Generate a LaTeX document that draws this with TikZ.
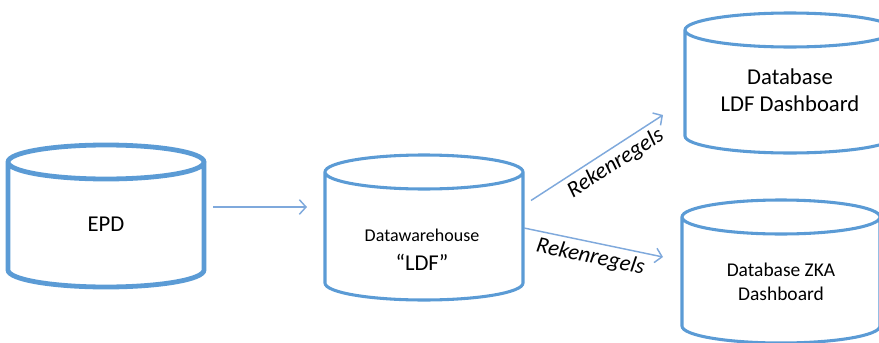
\documentclass[tikz,border=0pt]{standalone}
\usepackage{fontspec}
\setmainfont{Carlito}
\usepackage{tikz}
\usetikzlibrary{arrows.meta,calc}
\definecolor{dbblue}{HTML}{5B9BD5}
\definecolor{linkblue}{HTML}{7FA9DC}
\tikzset{
  db/.style = {rectangle, inner sep=0pt, outer sep=0pt},
  dbline/.style = {draw=dbblue, line width=#1},
  dbtext/.style = {align=center, font=\fontsize{17}{20}\selectfont},
  link/.style = {linkblue, line width=1.1pt, -{Straight Barb[length=5pt,width=11pt]}},
  rulelabel/.style = {text=black, font=\itshape\fontsize{17}{20}\selectfont, sloped}
}

\begin{document}
\begin{tikzpicture} [x=0.75pt, y=-0.75pt]
\useasboundingbox (0,0) rectangle (879,343);
\clip (0,0) rectangle (879,343);
\node[db, minimum width=147pt, minimum height=106.5pt] (epd) at (106,216) {};
\node[db, minimum width=148.5pt, minimum height=108.75pt] (dw) at (424,227.5) {};
\node[db, minimum width=157.5pt, minimum height=105pt] (ldfdb) at (790,83) {};
\node[db, minimum width=148.5pt, minimum height=107.25pt] (zkadb) at (781,271.5) {};
\foreach \db/\lw in {epd/3.6pt, dw/2.3pt, ldfdb/2.3pt, zkadb/2.3pt}
  \draw[dbline=\lw] let \p1 = (\db.north west), \p2 = (\db.south east),
      \n1 = {(\x2-\x1)/2}, \n2 = {12.75pt} in
    (\x1+\n1, \y1-\n2) ellipse [x radius=\n1, y radius=\n2]
    (\x1, \y1-\n2) -- (\x1, \y2+\n2)
    arc [start angle=180, end angle=360, x radius=\n1, y radius=\n2] -- (\x2, \y1-\n2);

\node[dbtext] (epdtext) at ($(epd.center)+(0,8)$) {EPD};
\node[dbtext] (dwtext) at ($(dw.center)+(-2,22)$) {{\fontsize{13.5}{19}\selectfont Datawarehouse}\\[2pt]``LDF''};
\node[dbtext] (ldftext) at ($(ldfdb.center)+(0,7)$) {Database\\LDF Dashboard};
\node[dbtext, font=\fontsize{14.6}{18}\selectfont] (zkatext) at ($(zkadb.center)+(0,10.5)$) {Database ZKA\\Dashboard};

\draw[link] ($(epd.center)+(107,-9)$) -- ($(dw.center)+(-117,-20.5)$);
\draw[link] ($(dw.center)+(107,-27)$) -- ($(ldfdb.center)+(-127,32)$)
  node[rulelabel, pos=0.58, below] (rule1) {Rekenregels};
\draw[link] ($(dw.center)+(100,0.5)$) -- ($(zkadb.center)+(-118,-14.5)$)
  node[rulelabel, midway, below] (rule2) {Rekenregels};
\end{tikzpicture}
\end{document}
